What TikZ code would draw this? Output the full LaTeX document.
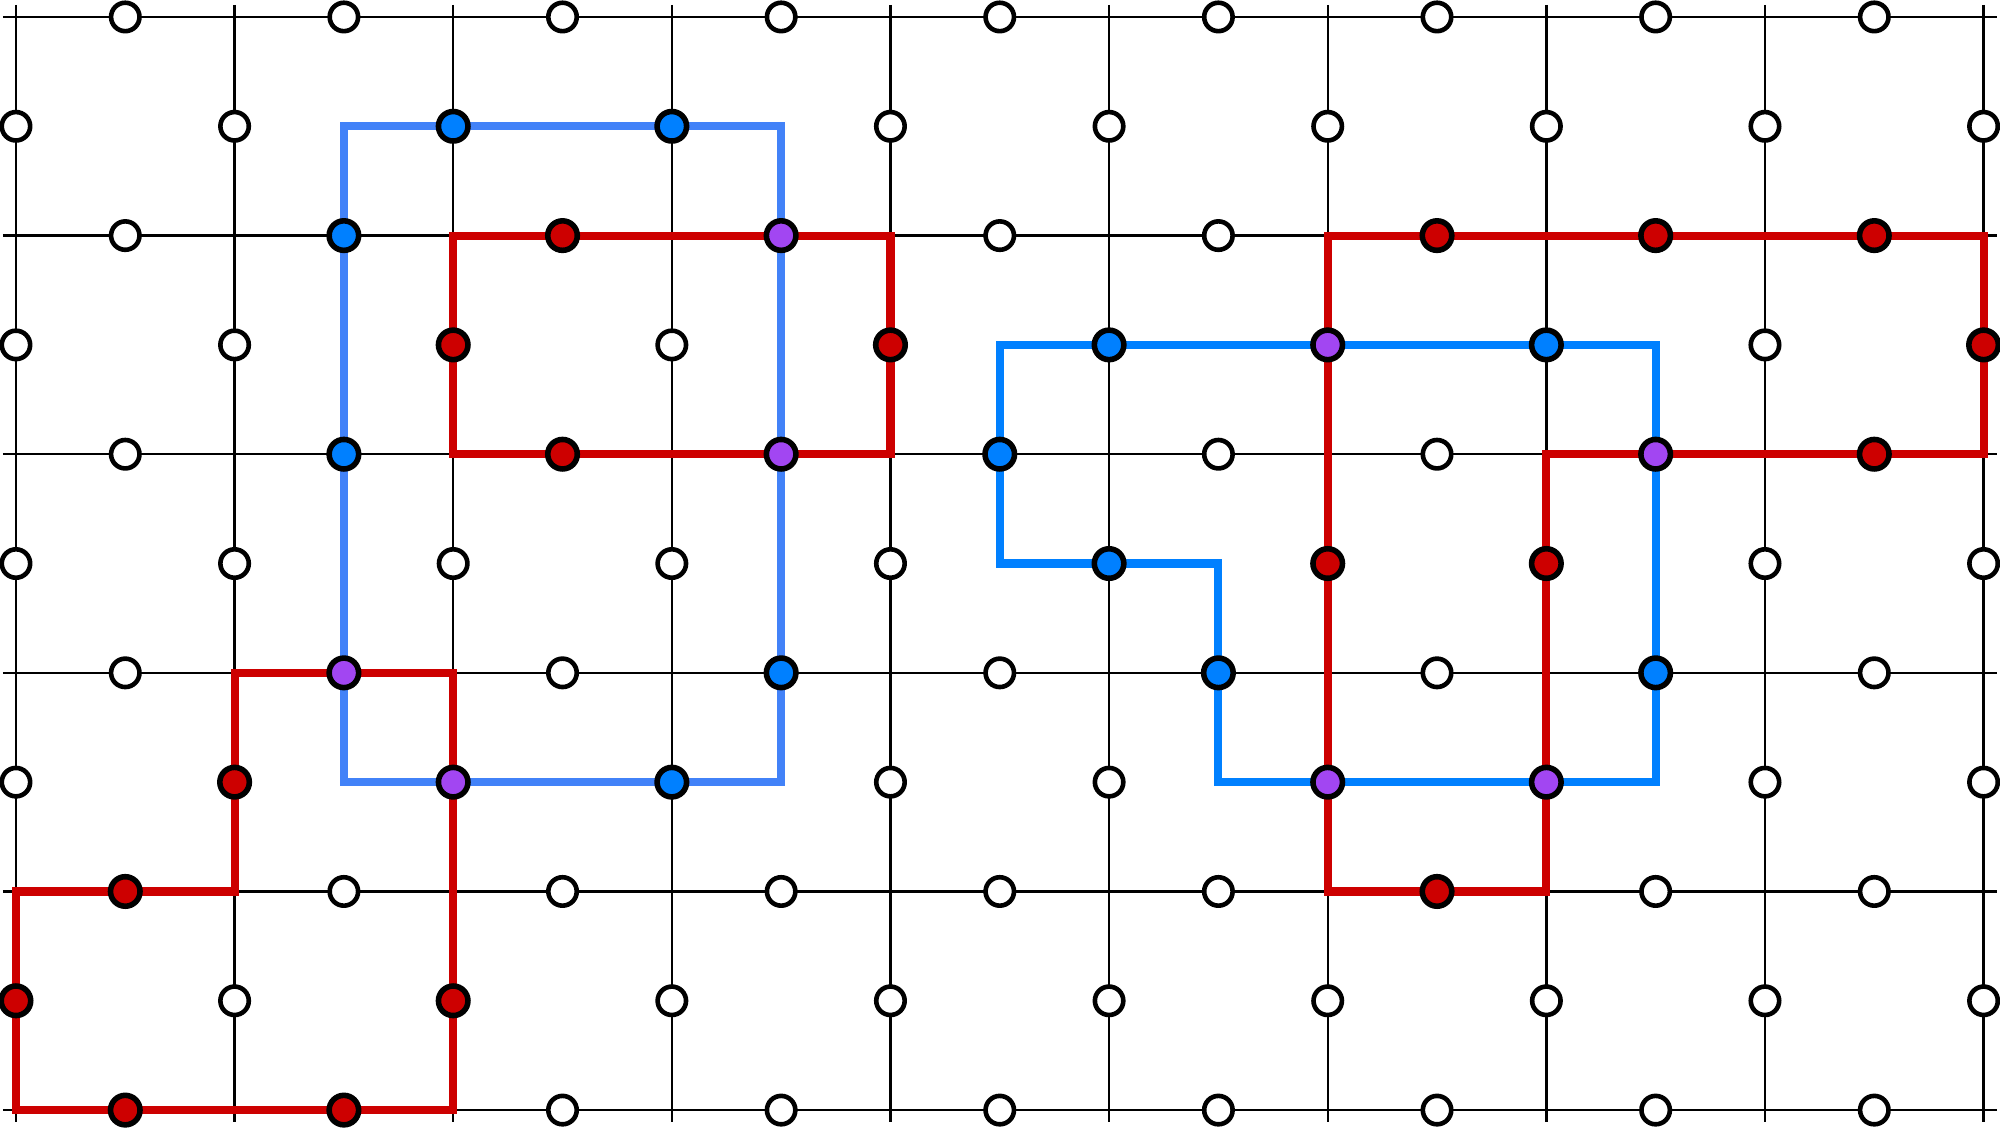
\documentclass[tikz,border=0pt]{standalone}
\usepackage{tikz}
\usetikzlibrary{calc}
\usepackage{xcolor}
\definecolor{qred}{RGB}{205,0,0}
\definecolor{qblue}{RGB}{0,128,255}
\definecolor{qlblue}{RGB}{66,130,248}
\definecolor{qpurple}{RGB}{162,70,242}

\begin{document}
\begin{tikzpicture}
		\tikzstyle{qb}=[draw, circle, fill=white, line width=1.2pt, inner sep=0pt, minimum size=2.6mm]
		\tikzstyle{qf}=[qb, line width=1.45pt, minimum size=2.7mm]
		\tikzstyle{grid}=[line width=0.6pt]
		\tikzstyle{zloop}=[qred, line width=2.1pt]
		\tikzstyle{xloop}=[qblue, line width=2.1pt]
		\useasboundingbox (-0.146,0.155) rectangle (18.15,-10.17);
		\foreach \x in {0,...,18}
		\foreach \y in {0,...,10}
		\coordinate (p-\x-\y) at (\x,-\y);
		% lattice
		\foreach \x in {0,2,...,18}
		\draw[grid] (\x,0.11) -- (\x,-10.11);
		\foreach \y in {0,2,...,10}
		\draw[grid] (-0.12,-\y) -- (18.12,-\y);
		% loops
		\draw[xloop, qlblue] (p-3-1) -- (p-7-1) -- (p-7-7) -- (p-3-7) -- cycle;
		\draw[xloop] (p-9-3) -- (p-15-3) -- (p-15-7) -- (p-11-7) -- (p-11-5) -- (p-9-5) -- cycle;
		\draw[zloop] (p-4-2) -- (p-8-2) -- (p-8-4) -- (p-4-4) -- cycle;
		\draw[zloop] (p-2-6) -- (p-4-6) -- (p-4-10) -- (p-0-10) -- (p-0-8) -- (p-2-8) -- cycle;
		\draw[zloop] (p-12-2) -- (p-18-2) -- (p-18-4) -- (p-14-4) -- (p-14-8) -- (p-12-8) -- cycle;
		% qubits
		\foreach \x in {0,...,18}
		\foreach \y in {0,...,10} {
			\pgfmathtruncatemacro{\s}{mod(\x+\y,2)}
			\ifnum\s=1 \node[qb] (q-\x-\y) at (p-\x-\y) {}; \fi
		}
		\foreach \p in {4-1,6-1,3-2,3-4,7-6,6-7,10-3,14-3,9-4,10-5,11-6,15-6}
		\node[qf, fill=qblue] (b-\p) at (p-\p) {};
		\foreach \p in {5-2,4-3,8-3,5-4,2-7,1-8,0-9,4-9,1-10,3-10,13-2,15-2,17-2,18-3,17-4,12-5,14-5,13-8}
		\node[qf, fill=qred] (r-\p) at (p-\p) {};
		\foreach \p in {7-2,7-4,3-6,4-7,12-3,15-4,12-7,14-7}
		\node[qf, fill=qpurple] (m-\p) at (p-\p) {};
\end{tikzpicture}
\end{document}
